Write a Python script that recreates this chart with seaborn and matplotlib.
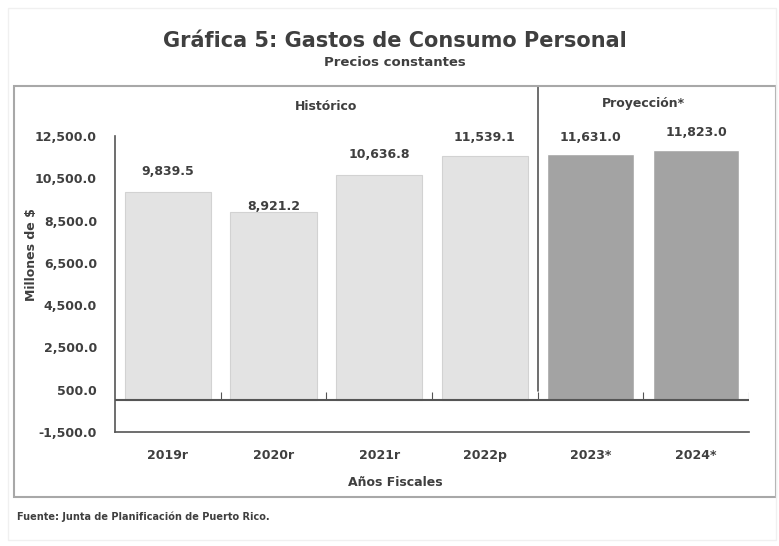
import numpy as np
import pandas as pd
import matplotlib
matplotlib.use('Agg')
import matplotlib.pyplot as plt
import seaborn as sns
from matplotlib.patches import Rectangle

years = ['2019r', '2020r', '2021r', '2022p', '2023*', '2024*']
gastos = [9839.5, 8921.2, 10636.8, 11539.1, 11631.0, 11823.0]
tipo = ['Histórico', 'Histórico', 'Histórico', 'Histórico', 'Proyección*', 'Proyección*']
y_ticks = [-1500, 500, 2500, 4500, 6500, 8500, 10500, 12500]

df = pd.DataFrame({'year': years, 'valor': gastos, 'tipo': tipo})

sns.set_style('white')
plt.rcParams['font.family'] = ['DejaVu Sans']
txt = '#3f3f3f'

fig = plt.figure(figsize=(7.79, 5.46), dpi=100)
ax = fig.add_axes([115/779, 1-432/546, 634/779, 296/546])

colores = {'Histórico': '#e3e3e3', 'Proyección*': '#a3a3a3'}
sns.barplot(data=df, x='year', y='valor', hue='tipo', palette=colores,
            width=0.82, legend=False, ax=ax, saturation=1)
for p, t in zip(ax.patches, tipo):
    if t == 'Histórico':
        p.set_edgecolor('#d2d2d2')
        p.set_linewidth(0.8)

ax.set_ylim(-1500, 12500)
ax.set_xlim(-0.5, len(years) - 0.5)
ax.set_yticks(y_ticks)
ax.set_yticklabels([f'{v:,.1f}' for v in y_ticks])
ax.tick_params(axis='y', length=0, pad=13, labelsize=9, labelcolor=txt)
ax.tick_params(axis='x', length=0, pad=12, labelsize=9, labelcolor=txt)
for lab in ax.get_xticklabels() + ax.get_yticklabels():
    lab.set_fontweight('bold')

for s in ['top', 'right']:
    ax.spines[s].set_visible(False)
for s in ['left', 'bottom']:
    ax.spines[s].set_color('#555555')
    ax.spines[s].set_linewidth(1.2)

# linea del cero y marcas entre categorias
ax.axhline(0, color='#555555', lw=1.5)
ax.vlines(np.arange(len(years)) + 0.5, 0, 400, color='#555555', lw=0.8)

# separador historico / proyeccion
ax.axvline(3.5, ymin=(450 + 1500) / 14000, ymax=1.169, color='#555555',
           lw=1.2, clip_on=False)

offsets = [21, 5, 21, 19, 17, 18]
for i, (v, off) in enumerate(zip(gastos, offsets)):
    ax.annotate(f'{v:,.1f}', (i, v), xytext=(0, off), textcoords='offset pixels',
                ha='center', va='center', fontsize=9, fontweight='bold', color=txt)

ax.text(1.5, 1.1, 'Histórico', transform=ax.get_xaxis_transform(),
        ha='center', va='center', fontsize=9, fontweight='bold', color=txt)
ax.text(4.5, 1.11, 'Proyección*', transform=ax.get_xaxis_transform(),
        ha='center', va='center', fontsize=9, fontweight='bold', color=txt)

ax.set_xlabel('Años Fiscales', fontsize=9, fontweight='bold', color=txt)
ax.set_ylabel('Millones de $', fontsize=9, fontweight='bold', color=txt)
ax.xaxis.set_label_coords((395 - 115) / 634, (432 - 482) / 296)
ax.yaxis.set_label_coords((31 - 115) / 634, (432 - 255) / 296)
ax.xaxis.label.set_va('center')
ax.yaxis.label.set_va('center')

fig.text(395/779, 1-41/546, 'Gráfica 5: Gastos de Consumo Personal', ha='center',
         va='center', fontsize=15, fontweight='bold', color=txt)
fig.text(395/779, 1-63/546, 'Precios constantes', ha='center', va='center',
         fontsize=9.5, fontweight='bold', color=txt)
fig.text(17/779, 1-517/546, 'Fuente: Junta de Planificación de Puerto Rico.',
         ha='left', va='center', fontsize=7, fontweight='bold', color=txt)

fig.patches.append(Rectangle((14/779, 1-497/546), 762/779, 411/546,
                             transform=fig.transFigure, fill=False,
                             edgecolor='#a8a8a8', lw=1.5))
fig.patches.append(Rectangle((8/779, 1-540/546), 768/779, 532/546,
                             transform=fig.transFigure, fill=False,
                             edgecolor='#f0f0f0', lw=1))

fig.savefig('out.png', dpi=100)
